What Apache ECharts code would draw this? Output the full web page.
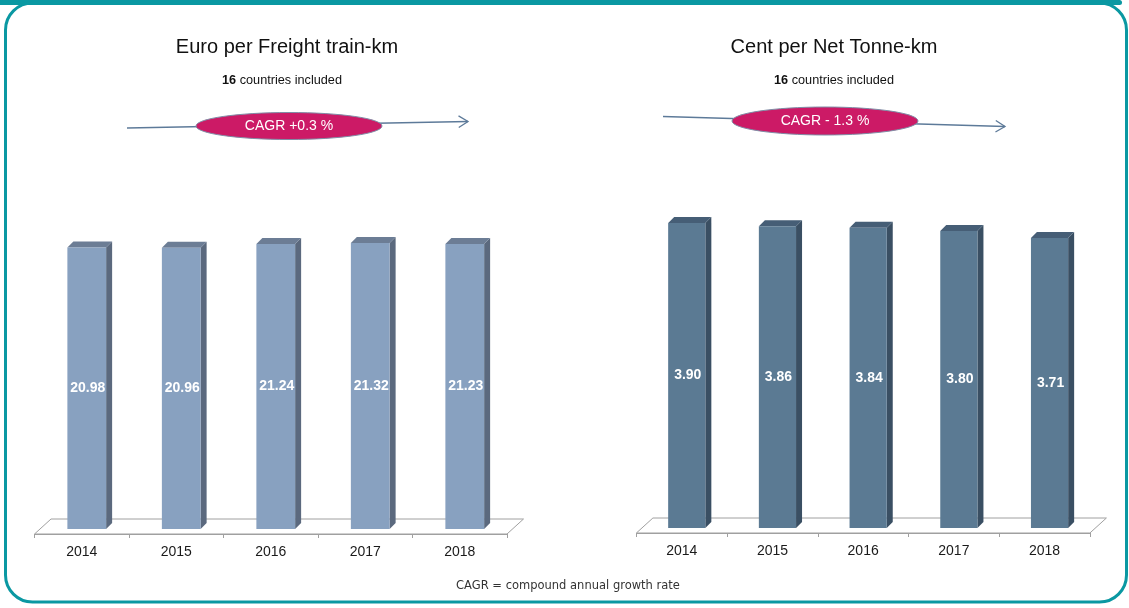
<!DOCTYPE html>
<html>
<head>
<meta charset="utf-8">
<script src="https://cdn.jsdelivr.net/npm/echarts@6/dist/echarts.min.js"></script>
<style>html,body{margin:0;padding:0;background:#fff;}#c{width:1129px;height:608px;}</style>
</head>
<body>
<div id="c"></div>
<script>
var years = ['2014', '2015', '2016', '2017', '2018'];
var euroPerTrainKm = [20.98, 20.96, 21.24, 21.32, 21.23];
var centPerNetTonneKm = [3.90, 3.86, 3.84, 3.80, 3.71];
var titles = ['Euro per Freight train-km', 'Cent per Net Tonne-km'];
var cagrLabels = ['CAGR +0.3 %', 'CAGR - 1.3 %'];
var countries = ['16', '16'];
var footnote = 'CAGR = compound annual growth rate';

var FONT = '"Liberation Sans", Arial, sans-serif';
var TEAL = '#0a98a2';

function barRenderer(front, side, top) {
  return function (params, api) {
    var v = api.value(1);
    var base = api.coord([api.value(0), 0]);
    var tip = api.coord([api.value(0), v]);
    var bw = api.size([1, 0])[0] * 0.41;
    var off = 5, d = 6;
    var x0 = base[0] + off - bw / 2, x1 = x0 + bw;
    var yb = base[1] - off, yt = tip[1] - off;
    var txt = v.toFixed(2);
    return {
      type: 'group',
      children: [
        { type: 'polygon', shape: { points: [[x1, yb], [x1 + d, yb - d], [x1 + d, yt - d], [x1, yt]] }, style: { fill: side } },
        { type: 'polygon', shape: { points: [[x0, yt], [x0 + d, yt - d], [x1 + d, yt - d], [x1, yt]] }, style: { fill: top } },
        { type: 'rect', shape: { x: x0, y: yt, width: bw, height: yb - yt }, style: { fill: front } },
        { type: 'text', style: { text: txt, x: (x0 + x1) / 2 + 1, y: (yt + yb) / 2, align: 'center', verticalAlign: 'middle', fill: '#ffffff', font: 'bold 14px ' + FONT } }
      ]
    };
  };
}

function floorRenderer(params, api) {
  var cs = params.coordSys;
  var yb = cs.y + cs.height, x0 = cs.x, x1 = cs.x + cs.width;
  var dx = 16.5, dy = 15;
  return {
    type: 'polygon',
    shape: { points: [[x0, yb], [x0 + dx, yb - dy], [x1 + dx, yb - dy], [x1, yb]] },
    style: { fill: '#ffffff', stroke: '#a0a0a0', lineWidth: 1 },
    z2: 0
  };
}

function xAxisDef(gi) {
  return {
    type: 'category', gridIndex: gi, data: years, boundaryGap: true,
    axisLine: { show: true, lineStyle: { color: '#a0a0a0', width: 1 } },
    axisTick: { show: true, length: 4, lineStyle: { color: '#a0a0a0' } },
    axisLabel: { color: '#1a1a1a', fontSize: 14, fontFamily: FONT, margin: 11 },
    z: 5
  };
}

function arrow(x1, y1, x2, y2) {
  var ang = Math.atan2(y2 - y1, x2 - x1);
  var L = 11, w = 0.55;
  var a1 = [x2 - L * Math.cos(ang - w), y2 - L * Math.sin(ang - w)];
  var a2 = [x2 - L * Math.cos(ang + w), y2 - L * Math.sin(ang + w)];
  return [
    { type: 'line', shape: { x1: x1, y1: y1, x2: x2, y2: y2 }, style: { stroke: '#5d7a99', lineWidth: 1.3 } },
    { type: 'polyline', shape: { points: [a1, [x2, y2], a2] }, style: { stroke: '#5d7a99', lineWidth: 1.3, fill: null } }
  ];
}

var titleCx = [287, 834];
var subCx = [282, 834];
var graphics = [
  { type: 'rect', shape: { x: 0, y: 0, width: 1122, height: 5, r: [0, 3, 3, 0] }, style: { fill: TEAL }, z: 10 },
  { type: 'rect', shape: { x: 5.5, y: 3, width: 1121, height: 599, r: 27 }, style: { fill: null, stroke: TEAL, lineWidth: 3 }, z: 10 },
  { type: 'text', style: { text: footnote, x: 568, y: 586, align: 'center', verticalAlign: 'middle', fill: '#333333', font: '11.5px "DejaVu Sans", sans-serif' } }
];
for (var i = 0; i < 2; i++) {
  graphics.push({ type: 'text', style: { text: titles[i], x: titleCx[i], y: 47, align: 'center', verticalAlign: 'middle', fill: '#111111', font: '20px ' + FONT } });
  graphics.push({ type: 'text', style: { text: '{b|' + countries[i] + '} countries included', x: subCx[i], y: 80, align: 'center', verticalAlign: 'middle', fill: '#111111', font: '12.7px ' + FONT,
    rich: { b: { fontWeight: 'bold', fontSize: 12.7, fontFamily: FONT, fill: '#111111' } } } });
}
graphics = graphics.concat(arrow(127, 128, 468, 121.5));
graphics = graphics.concat(arrow(663, 116.5, 1005, 126.5));
graphics.push({ type: 'ellipse', shape: { cx: 289, cy: 126, rx: 93, ry: 13.5 }, style: { fill: '#cc1a66', stroke: '#7f8da6', lineWidth: 1 }, z: 20 });
graphics.push({ type: 'text', style: { text: cagrLabels[0], x: 289, y: 126, align: 'center', verticalAlign: 'middle', fill: '#ffffff', font: '14px ' + FONT }, z: 21 });
graphics.push({ type: 'ellipse', shape: { cx: 825, cy: 121, rx: 93, ry: 14 }, style: { fill: '#cc1a66', stroke: '#7f8da6', lineWidth: 1 }, z: 20 });
graphics.push({ type: 'text', style: { text: cagrLabels[1], x: 825, y: 121, align: 'center', verticalAlign: 'middle', fill: '#ffffff', font: '14px ' + FONT }, z: 21 });

var chart = echarts.init(document.getElementById('c'), null, { renderer: 'canvas' });
chart.setOption({
  backgroundColor: '#ffffff',
  animation: false,
  grid: [
    { left: 34.5, width: 472.5, top: 198.5, bottom: 74 },
    { left: 636.4, width: 453.5, top: 181.2, bottom: 75 }
  ],
  xAxis: [xAxisDef(0), xAxisDef(1)],
  yAxis: [
    { type: 'value', gridIndex: 0, min: 0, max: 25, show: false, splitLine: { show: false } },
    { type: 'value', gridIndex: 1, min: 0, max: 4.5, show: false, splitLine: { show: false } }
  ],
  series: [
    { type: 'custom', xAxisIndex: 0, yAxisIndex: 0, data: [[0, 0]], renderItem: floorRenderer, z: 1, silent: true },
    { type: 'custom', xAxisIndex: 1, yAxisIndex: 1, data: [[0, 0]], renderItem: floorRenderer, z: 1, silent: true },
    { type: 'custom', xAxisIndex: 0, yAxisIndex: 0, z: 6,
      data: euroPerTrainKm.map(function (v, k) { return [k, v]; }),
      renderItem: barRenderer('#88a1c0', '#5b697e', '#6c7d95') },
    { type: 'custom', xAxisIndex: 1, yAxisIndex: 1, z: 6,
      data: centPerNetTonneKm.map(function (v, k) { return [k, v]; }),
      renderItem: barRenderer('#5b7a93', '#3a4f63', '#465e76') }
  ],
  graphic: graphics
});
</script>
</body>
</html>
